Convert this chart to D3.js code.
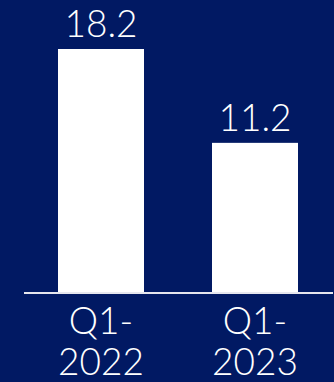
<!DOCTYPE html>
<html>
<head>
<meta charset="utf-8">
<script src="https://cdn.jsdelivr.net/npm/d3@7"></script>
<style>
  html, body { margin: 0; padding: 0; background: #011963; }
  svg { display: block; }
</style>
</head>
<body>
<div id="chart"></div>
<script>
const categories = ['Q1-2022', 'Q1-2023'];
const labelLines = [['Q1-', '2022'], ['Q1-', '2023']];
const values = [18.2, 11.2];

const width = 334;
const height = 382;
const baseY = 293;
const FONT = 'Lato, "Noto Sans", sans-serif';

const svg = d3.select('#chart').append('svg').attr('width', width).attr('height', height);

svg.append('rect').attr('width', width).attr('height', height).attr('fill', '#011963');

const x = d3.scaleBand().domain(categories).range([24, 332]).paddingInner(0.4416).paddingOuter(0.2208);
const y = d3.scaleLinear().domain([0, 18.2]).range([baseY, 49]);

svg
  .selectAll('.bar')
  .data(values)
  .join('rect')
  .attr('class', 'bar')
  .attr('x', (d, i) => x(categories[i]))
  .attr('y', (d) => y(d))
  .attr('width', x.bandwidth())
  .attr('height', (d) => baseY - y(d))
  .attr('fill', '#ffffff');

svg
  .append('line')
  .attr('x1', 24)
  .attr('x2', 333)
  .attr('y1', baseY)
  .attr('y2', baseY)
  .attr('stroke', '#e6e6ee')
  .attr('stroke-width', 2);

svg
  .selectAll('.val')
  .data(values)
  .join('text')
  .attr('class', 'val')
  .attr('x', (d, i) => x(categories[i]) + x.bandwidth() / 2)
  .attr('y', (d) => y(d) - 12)
  .attr('text-anchor', 'middle')
  .attr('fill', '#ffffff')
  .style('font-family', FONT)
  .style('font-weight', 300)
  .style('font-size', '37px')
  .text((d) => d.toFixed(1));

const cats = svg
  .selectAll('.cat')
  .data(labelLines)
  .join('text')
  .attr('class', 'cat')
  .attr('x', (d, i) => x(categories[i]) + x.bandwidth() / 2)
  .attr('y', 334)
  .attr('text-anchor', 'middle')
  .attr('fill', '#ffffff')
  .style('font-family', FONT)
  .style('font-weight', 300)
  .style('font-size', '37px');

cats
  .selectAll('tspan')
  .data((d) => d)
  .join('tspan')
  .attr('x', function () {
    return d3.select(this.parentNode).attr('x');
  })
  .attr('dy', (d, i) => (i === 0 ? 0 : 41))
  .text((d) => d);
</script>
</body>
</html>
